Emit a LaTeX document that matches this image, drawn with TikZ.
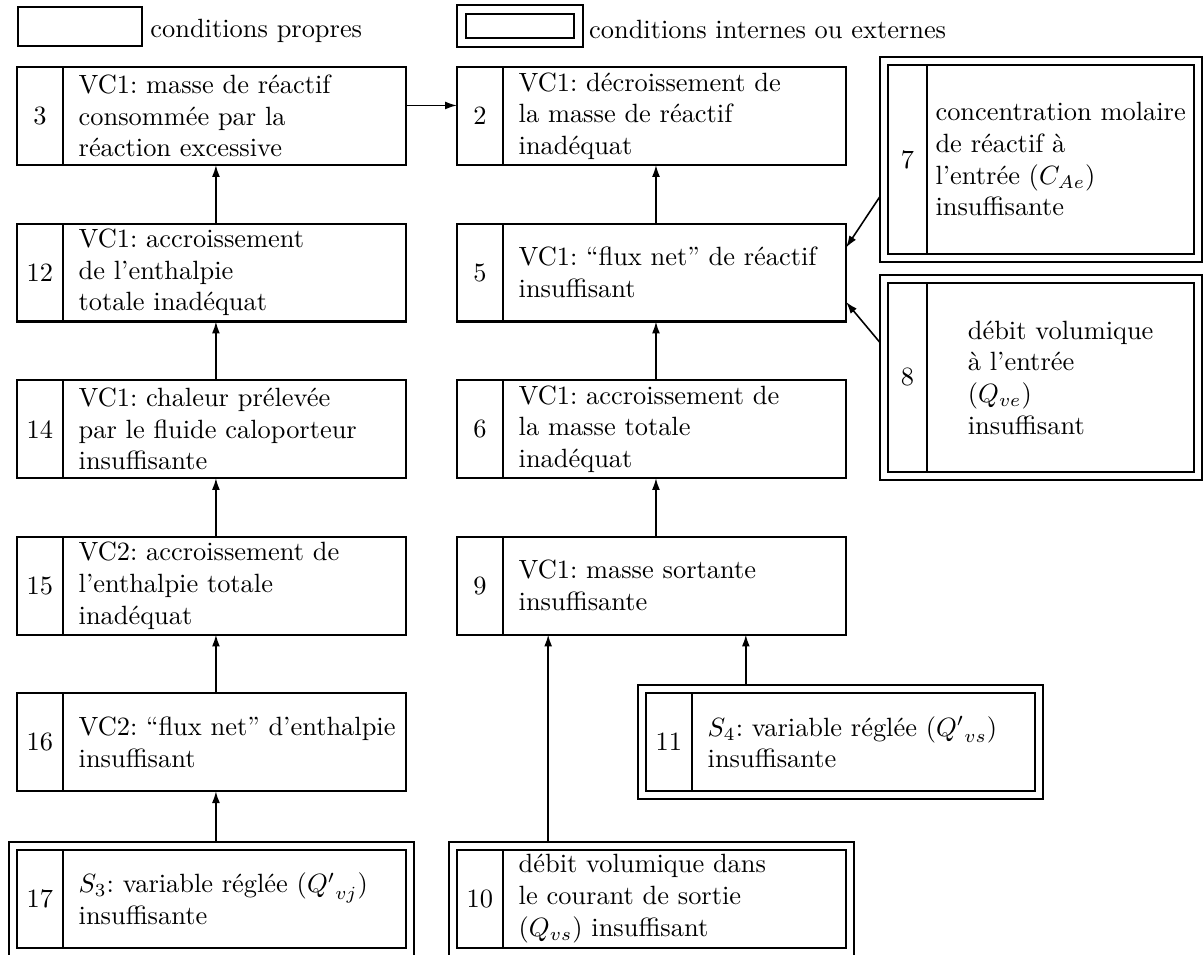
\documentclass[tikz,border=0pt]{standalone}
\usepackage{fontspec}
\usetikzlibrary{positioning,fit,arrows.meta,calc}
\frenchspacing

\begin{document}
\begin{tikzpicture}[
    num/.style={
        draw,
        line width=0.8pt,
        inner sep=0pt,
        outer sep=0pt,
        minimum width=17.4pt,
        minimum height=37.1pt
    },
    txt/.style={
        draw,
        line width=0.8pt,
        inner xsep=6pt,
        inner ysep=1pt,
        outer sep=0pt,
        text width=118pt,
        minimum height=37.1pt,
        align=left
    },
    rnum/.style={num, minimum width=14.8pt, minimum height=71.6pt},
    rtxt/.style={
        draw,
        line width=0.8pt,
        inner sep=2pt,
        outer sep=0pt,
        minimum width=101.2pt,
        minimum height=71.6pt,
        align=left
    },
    ext/.style={draw, line width=0.8pt, inner sep=3pt, outer sep=0pt},
    legbox/.style={draw, line width=0.8pt, inner sep=0pt, minimum width=47pt, minimum height=14.8pt},
    legtxt/.style={inner sep=0pt, yshift=-1.5pt},
    arrow/.style={-{Latex[length=4.5pt,width=3pt]}, line width=0.6pt}
]
\useasboundingbox (0,0) rectangle (456.1pt,-361.4pt);

% ============================================================
% LEGENDE
% ============================================================
\node[legbox, anchor=north west] (leg1) at (6.4pt,-2.3pt) {};
\node[legtxt, right=2.6pt of leg1] (legt1) {conditions propres};
\node[legbox, minimum width=40.9pt, minimum height=9.1pt, anchor=north west] (leg2) at (176.1pt,-4.9pt) {};
\node[ext, fit=(leg2)] (fleg2) {};
\node[legtxt, right=2.2pt of fleg2] (legt2) {conditions internes ou externes};

% ============================================================
% COLONNE GAUCHE (bilan d'enthalpie)
% ============================================================
\node[num, anchor=north west] (n3) at (6.4pt,-25.4pt) {3};
\node[txt, right=0pt of n3] (t3) {VC1: masse de réactif\\consommée par la\\réaction excessive};
\node[num, below=22.2pt of n3] (n12) {12};
\node[txt, right=0pt of n12] (t12) {VC1: accroissement\\de l'enthalpie\\totale inadéquat};
\node[num, below=22.2pt of n12] (n14) {14};
\node[txt, right=0pt of n14] (t14) {VC1: chaleur prélevée\\par le fluide caloporteur\\insuffisante};
\node[num, below=22.2pt of n14] (n15) {15};
\node[txt, right=0pt of n15] (t15) {VC2: accroissement de\\l'enthalpie totale\\inadéquat};
\node[num, below=22.2pt of n15] (n16) {16};
\node[txt, right=0pt of n16] (t16) {\mbox{VC2: ``flux net'' d'enthalpie}\\insuffisant};
\node[num, below=22.2pt of n16] (n17) {17};
\node[txt, right=0pt of n17] (t17) {$S_3$: variable réglée (${Q'}_{vj}$)\\insuffisante};
\node[ext, fit=(n17)(t17)] (f17) {};

\draw[arrow] ([xshift=-7pt]t12.north) -- ([xshift=-7pt]t3.south);
\draw[arrow] ([xshift=-7pt]t14.north) -- ([xshift=-7pt]t12.south);
\draw[arrow] ([xshift=-7pt]t15.north) -- ([xshift=-7pt]t14.south);
\draw[arrow] ([xshift=-7pt]t16.north) -- ([xshift=-7pt]t15.south);
\draw[arrow] ([xshift=-7pt,yshift=3pt]t17.north) -- ([xshift=-7pt]t16.south);

% ============================================================
% COLONNE CENTRALE (bilan de masse)
% ============================================================
\node[num, right=19.3pt of t3] (n2) {2};
\node[txt, right=0pt of n2] (t2) {VC1: décroissement de\\la masse de réactif\\inadéquat};
\node[num, right=19.3pt of t12] (n5) {5};
\node[txt, right=0pt of n5] (t5) {VC1: ``flux net'' de réactif\\insuffisant};
\node[num, right=19.3pt of t14] (n6) {6};
\node[txt, right=0pt of n6] (t6) {VC1: accroissement de\\la masse totale\\inadéquat};
\node[num, right=19.3pt of t15] (n9) {9};
\node[txt, right=0pt of n9] (t9) {VC1: masse sortante\\insuffisante};
\node[num, right=90.9pt of t16] (n11) {11};
\node[txt, right=0pt of n11] (t11) {$S_4$: variable réglée (${Q'}_{vs}$)\\insuffisante};
\node[ext, fit=(n11)(t11)] (f11) {};
\node[num, right=19.3pt of t17] (n10) {10};
\node[txt, right=0pt of n10] (t10) {débit volumique dans\\le courant de sortie\\($Q_{vs}$) insuffisant};
\node[ext, fit=(n10)(t10)] (f10) {};

\coordinate (q10) at ($(t9.south west)!0.132!(t9.south east)$);
\coordinate (q11) at ($(t9.south west)!0.708!(t9.south east)$);

\draw[arrow] ([yshift=4pt]t3.east) -- ([yshift=4pt]n2.west);
\draw[arrow] ([xshift=-7pt]t5.north) -- ([xshift=-7pt]t2.south);
\draw[arrow] ([xshift=-7pt]t6.north) -- ([xshift=-7pt]t5.south);
\draw[arrow] ([xshift=-7pt]t9.north) -- ([xshift=-7pt]t6.south);
\draw[arrow] (f10.north -| q10) -- (q10);
\draw[arrow] (f11.north -| q11) -- (q11);

% ============================================================
% COLONNE DROITE (conditions d'entree)
% ============================================================
\node[rnum, anchor=north west] (n7) at (336.4pt,-24.6pt) {7};
\node[rtxt, right=0pt of n7] (t7) {concentration molaire\\de réactif à\\l'entrée ($C_{Ae}$)\\insuffisante};
\node[ext, fit=(n7)(t7)] (f7) {};
\node[rnum, below=11pt of n7] (n8) {8};
\node[rtxt, right=0pt of n8] (t8) {débit volumique\\à l'entrée\\($Q_{ve}$)\\insuffisant};
\node[ext, fit=(n8)(t8)] (f8) {};

\draw[arrow] ($(f7.north west)!0.68!(f7.south west)$) -- ($(t5.north east)!0.245!(t5.south east)$);
\draw[arrow] ($(f8.north west)!0.33!(f8.south west)$) -- ($(t5.north east)!0.8!(t5.south east)$);

\end{tikzpicture}
\end{document}
